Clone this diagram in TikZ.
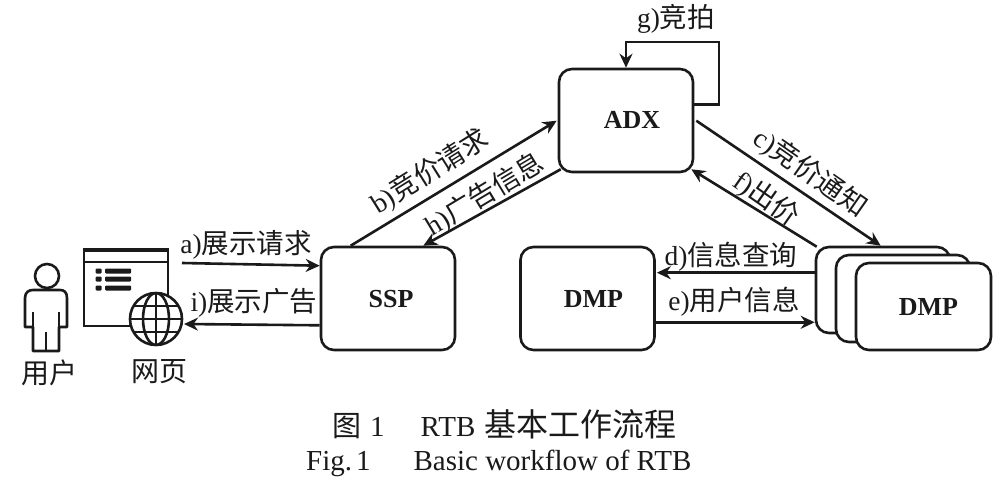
\documentclass[tikz,border=0pt]{standalone}
\usepackage{fontspec}
\setmainfont{Liberation Serif}
\newfontfamily\cjk{Noto Sans CJK SC}
\usetikzlibrary{calc,arrows.meta}
\newcommand{\szA}{\fontsize{27.5}{27.5}\selectfont}
\newcommand{\szB}{\fontsize{28}{28}\selectfont}
\newcommand{\szC}{\fontsize{29}{29}\selectfont}
\newcommand{\szD}{\fontsize{32}{32}\selectfont}
\tikzset{
  box/.style={draw=ink,line width=2.6pt,rounded corners=13pt,fill=white,inner sep=0pt,minimum width=134pt,minimum height=103pt},
  boxname/.style={font=\bfseries\fontsize{26}{26}\selectfont,text=ink,inner sep=0pt},
  lab/.style={font=\szA,text=ink,inner sep=0pt},
  conn/.style={draw=ink,line width=2.6pt,-{Stealth[length=14pt,width=13pt]}},
  icon/.style={draw=ink,line width=2.6pt},
}
\definecolor{ink}{HTML}{1A1A1A}
\begin{document}
\begin{tikzpicture}[x=1pt,y=-1pt]
\path[use as bounding box,fill=white] (0,0) rectangle (1000,486);
% boxes
\node[box] (adx) at (626,120.5) {};
\node[boxname,xshift=6pt,yshift=1pt] (adxt) at (adx.center) {ADX};
\node[box] (ssp) at (388,298.5) {};
\node[boxname,yshift=-1pt,xshift=3pt] (sspt) at (ssp.center) {SSP};
\node[box] (dmpa) at (587.5,298.5) {};
\node[boxname,yshift=-1pt,xshift=6pt] (dmpat) at (dmpa.center) {DMP};
\node[box,minimum height=86pt] (dmpb) at (883,290) {};
\node[box,minimum height=87pt] (dmpc) at (903,298.5) {};
\node[box,minimum height=87pt,minimum width=135pt] (dmpd) at (923.5,306.5) {};
\node[boxname,xshift=5pt,yshift=-1pt] (dmpt) at (dmpd.center) {DMP};
% connectors
\coordinate (pagea) at (182,263);
\draw[conn] (pagea) -- ($(ssp.north west)+(0,20)$);
\coordinate (globei) at (184,324);
\draw[conn] ($(ssp.south west)+(0,-26)$) -- (globei);
\draw[conn] ($(ssp.north west)+(31,0)$) -- ($(adx.north west)+(-1,53)$);
\draw[conn] ($(adx.south west)+(3,-4)$) -- ($(ssp.north east)+(-33,0)$);
\draw[conn] ($(adx.north east)+(2,53)$) -- ($(dmpb.north west)+(66,0)$);
\draw[conn] ($(dmpb.north west)+(2,1)$) -- ($(adx.south east)+(-3,-4)$);
\draw[conn] ($(dmpb.north west)+(0,27)$) -- ($(dmpa.north east)+(1,27)$);
\draw[conn] ($(dmpa.south east)+(0,-29)$) -- ($(dmpb.south west)+(0,-12)$);
\draw[conn,rounded corners=0pt] ($(adx.north east)+(0,37)$) -| (719,42) -| (adx.north);
% labels
\node[lab] (la) at (246,245) {a){\cjk 展示请求}};
\node[lab] (li) at (254,303) {i){\cjk 展示广告}};
\node[lab,rotate=32] (lb) at (430,172) {b){\cjk 竞价请求}};
\node[lab,rotate=31] (lh) at (485,195) {h){\cjk 广告信息}};
\node[lab,rotate=-35] (lc) at (810,173) {c){\cjk 竞价通知}};
\node[lab,rotate=-35] (lf) at (766,199) {f){\cjk 出价}};
\node[lab] (ld) at (731,257) {d){\cjk 信息查询}};
\node[lab] (le) at (734,302) {e){\cjk 用户信息}};
\node[lab] (lg) at (676,19) {g){\cjk 竞拍}};
% person icon
\draw[icon] (47,276) circle (12);
\draw[icon,line join=round] (33,327) -- (25,327) -- (25,298) .. controls (25,292) and (29,290) .. (33,290) -- (60,290) .. controls (64,290) and (67,292) .. (67,298) -- (67,327) -- (59,327) -- (59,351) -- (33,351) -- cycle;
\draw[icon] (33,312) -- (33,327) (59,312) -- (59,327) (46,332) -- (46,351);
% window icon
\draw[icon,fill=white] (84,249) rectangle (168,326);
\fill[ink] (84,248) rectangle (168,252);
\draw[ink,line width=2pt] (84,262) -- (168,262);
\foreach \yy in {271,279,288}{
  \fill[ink,rounded corners=1pt] (95.5,\yy-2.5) rectangle (101.5,\yy+2.5);
  \fill[ink,rounded corners=1pt] (105,\yy-2.5) rectangle (131,\yy+2.5);
}
% globe icon
\fill[white] (156,319) circle (26);
\begin{scope}
\clip (156,319) circle (26);
\draw[icon] (156,293) -- (156,345);
\draw[icon] (130,319) -- (182,319);
\draw[icon] (132,306) -- (180,306) (132,332) -- (180,332);
\draw[icon] (156,319) ellipse (13 and 26);
\end{scope}
\draw[icon] (156,319) circle (26);
% icon captions
\node[font=\szB,text=ink,inner sep=0pt] (user) at (49,373) {\cjk 用户};
\node[font=\szB,text=ink,inner sep=0pt] (web) at (159,372) {\cjk 网页};
% caption
\node[font=\szC,text=ink,inner sep=0pt,anchor=west] (cap1) at (332,424) {{\cjk 图}\hskip 9pt 1\hskip 36pt RTB\hskip 9pt{\szD\cjk 基本工作流程}};
\node[font=\szC,text=ink,inner sep=0pt,anchor=west] (cap2) at (306,463) {Fig.\hskip 4pt 1\hskip 43pt Basic workflow of RTB};
\end{tikzpicture}
\end{document}
